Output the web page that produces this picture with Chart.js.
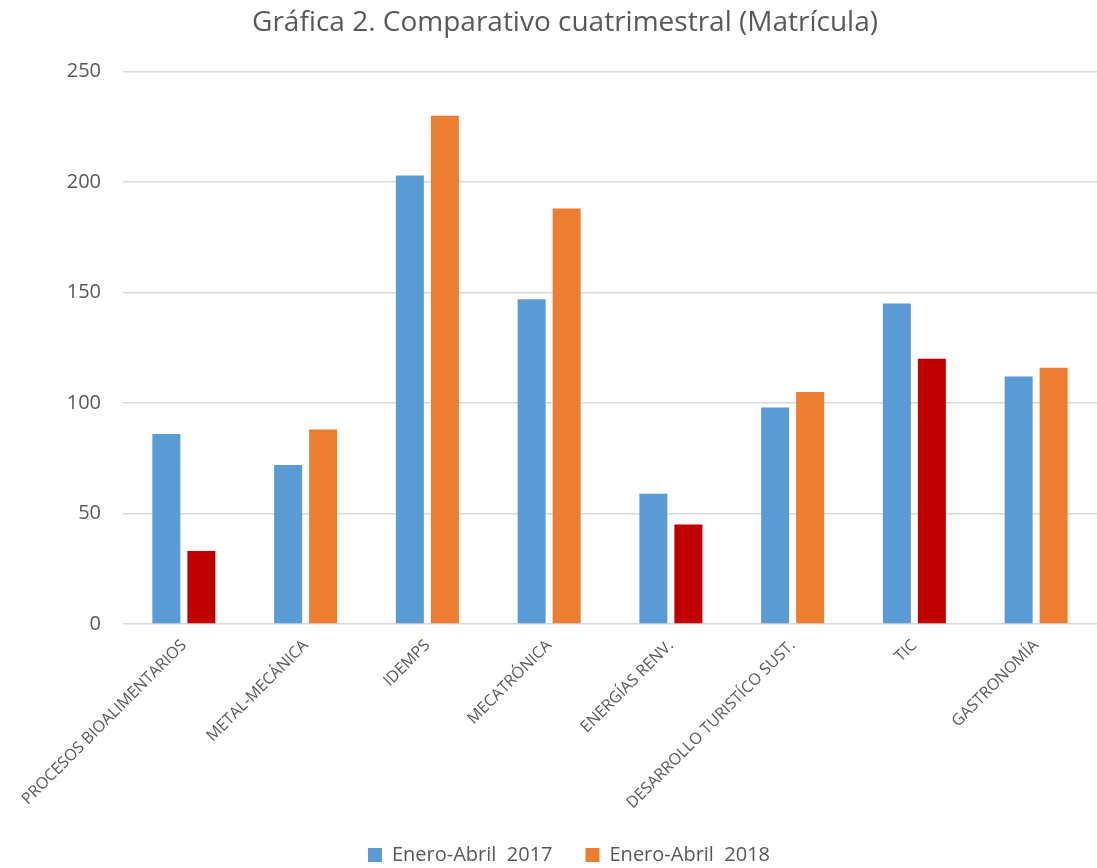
<!DOCTYPE html>
<html>
<head>
<meta charset="utf-8">
<script src="https://cdn.jsdelivr.net/npm/chart.js@4"></script>
<style>
html,body{margin:0;padding:0;background:#fff;}
#wrap{width:1097px;height:868px;position:relative;}
</style>
</head>
<body>
<div id="wrap"><canvas id="c" width="1097" height="868"></canvas></div>
<script>
const categories = ["PROCESOS BIOALIMENTARIOS","METAL-MECÁNICA","IDEMPS","MECATRÓNICA","ENERGÍAS RENV.","DESARROLLO TURISTÍCO SUST.","TIC","GASTRONOMÍA"];
const seriesNames = ["Enero-Abril  2017","Enero-Abril  2018"];
const values2017 = [86, 72, 203, 147, 59, 98, 145, 112];
const values2018 = [33, 88, 230, 188, 45, 105, 120, 116];
const yTicks = [0, 50, 100, 150, 200, 250];
const titleText = "Gráfica 2. Comparativo cuatrimestral (Matrícula)";

const BLUE = "#5B9BD5", ORANGE = "#ED7D31", RED = "#C00000";
const colors2018 = values2018.map((v, i) => v < values2017[i] ? RED : ORANGE);
const GRAY = "#595959";
const FONT = "'Open Sans'";

const PLOT_BOTTOM = 624;
const LEGEND_CENTER_Y = 855;
const LEGEND_CENTER_X = 569;
const TITLE_CENTER_X = 565;
const LEGEND_PAD = 33;
const LEGEND_FONT = 20;

const boxShift = {
  id: 'boxShift',
  afterLayout(chart) {
    const lg = chart.legend;
    if (lg) {
      const h = lg.height;
      const newTop = LEGEND_CENTER_Y - LEGEND_PAD - LEGEND_FONT / 2;
      lg.top = newTop; lg.bottom = newTop + h;
      const dx = LEGEND_CENTER_X - (lg.left + lg.right) / 2;
      lg.left += dx; lg.right += dx;
    }
    const tt = chart.titleBlock;
    if (tt) {
      const dx = TITLE_CENTER_X - (tt.left + tt.right) / 2;
      tt.left += dx; tt.right += dx;
    }
    const xs = chart.scales.x;
    if (xs) { xs.bottom = chart.height; xs.height = xs.bottom - xs.top; }
  }
};

new Chart(document.getElementById('c'), {
  type: 'bar',
  data: {
    labels: categories,
    datasets: [
      { label: seriesNames[0], data: values2017, backgroundColor: BLUE, borderWidth: 0 },
      { label: seriesNames[1], data: values2018, backgroundColor: colors2018, borderWidth: 0 }
    ]
  },
  plugins: [boxShift],
  options: {
    responsive: false,
    animation: false,
    devicePixelRatio: 1,
    categoryPercentage: 0.575,
    barPercentage: 0.8,
    layout: { padding: 0 },
    plugins: {
      title: {
        display: true, text: titleText, color: GRAY,
        font: { family: FONT, size: 28, weight: 'normal', lineHeight: 1.2 },
        padding: { top: 6, bottom: 32 }
      },
      legend: {
        position: 'bottom',
        labels: {
          color: GRAY, font: { family: FONT, size: LEGEND_FONT },
          boxWidth: 14, boxHeight: 14, padding: LEGEND_PAD,
          generateLabels: (chart) => chart.data.datasets.map((ds, i) => ({
            text: ds.label, fillStyle: i === 0 ? BLUE : ORANGE, strokeStyle: 'rgba(0,0,0,0)',
            lineWidth: 0, hidden: false, datasetIndex: i, fontColor: GRAY
          }))
        }
      },
      tooltip: { enabled: false }
    },
    scales: {
      x: {
        grid: { display: false },
        border: { display: false },
        ticks: { color: GRAY, font: { family: FONT, size: 16 }, maxRotation: 45, minRotation: 45, padding: 4, autoSkip: false },
        afterFit: (s) => {
          const lh = s.chart.legend ? s.chart.legend.height : 0;
          s.height = 868 - PLOT_BOTTOM - lh;
        }
      },
      y: {
        min: 0, max: 250,
        afterBuildTicks: (s) => { s.ticks = yTicks.map(v => ({ value: v })); },
        grid: { color: '#D9D9D9', lineWidth: 1.5, drawTicks: false },
        border: { display: false },
        ticks: { color: GRAY, font: { family: FONT, size: 20 }, padding: 22 },
        afterFit: (s) => { s.width = 123; }
      }
    }
  }
});
</script>
</body>
</html>
